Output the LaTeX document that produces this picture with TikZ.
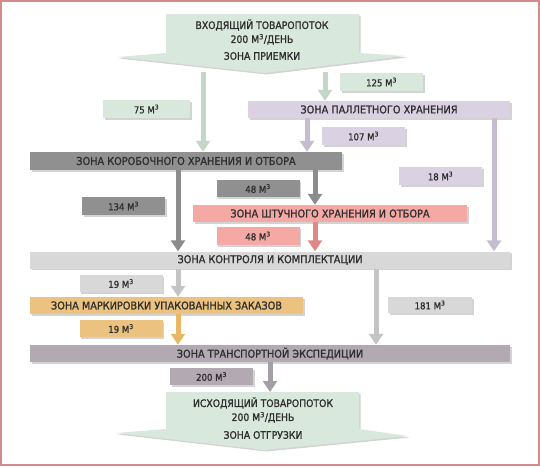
\documentclass[tikz,border=0pt]{standalone}
\usepackage{fontspec}
\setmainfont{DejaVu Sans Condensed}[FakeBold=1.2]
\usetikzlibrary{arrows.meta,shadows}
\definecolor{zone_text}{HTML}{2E2E2E}
\definecolor{frame_red}{HTML}{D38A8A}
\definecolor{recv_green}{HTML}{D9E8DC}
\definecolor{recv_arrow}{HTML}{C3D6C7}
\definecolor{pal_lilac}{HTML}{DAD2E2}
\definecolor{pal_arrow}{HTML}{C6BCD0}
\definecolor{box_gray}{HTML}{909090}
\definecolor{box_arrow}{HTML}{8C8C8C}
\definecolor{piece_pink}{HTML}{F5A9A5}
\definecolor{piece_arrow}{HTML}{E08886}
\definecolor{ctrl_gray}{HTML}{D8D8D8}
\definecolor{ctrl_arrow}{HTML}{C4C4C4}
\definecolor{mark_tan}{HTML}{EBC27F}
\definecolor{mark_arrow}{HTML}{EAB765}
\definecolor{ship_mauve}{HTML}{B3A9B3}
\definecolor{ship_arrow}{HTML}{A69EA6}
\newcommand{\mcube}{М\textsuperscript{3}}
\tikzset{shade_drop/.style={drop shadow={shadow xshift=1.5pt, shadow yshift=-1.5pt, opacity=0.35}}}
\tikzset{zone/.style={rectangle, minimum height=17pt, inner sep=0pt, text=zone_text, font=\fontsize{10.8}{12}\selectfont, shade_drop}}
\tikzset{vol/.style={zone, minimum width=83pt, font=\fontsize{9.5}{10}\selectfont}}
\tikzset{flow/.style={line width=5pt, -{Triangle[width=14pt,length=11pt]}}}
\tikzset{bantext/.style={text=zone_text, align=center, inner sep=1pt, font=\fontsize{10.3}{14}\selectfont}}

\begin{document}
\begin{tikzpicture}[x=1pt, y=-1pt]
  \useasboundingbox (0,0) rectangle (540,466);
  \draw[frame_red, line width=2pt] (1,1) rectangle (539,465);

  % incoming flow
  \fill[recv_green, shade_drop] (166,14) -- (359,14) -- (359,53) -- (406,56) -- (265,73) -- (117,57) -- (166,53) -- cycle;
  \node[bantext] (recv-flow) at (262,32) {ВХОДЯЩИЙ ТОВАРОПОТОК\\200 \mcube/ДЕНЬ};
  \node[bantext] (recv-zone) at (262,56) {ЗОНА ПРИЕМКИ};
  \coordinate (recv-tip) at (265,72);

  % outgoing flow
  \fill[recv_green, shade_drop] (166,392) -- (359,392) -- (359,429) -- (408,436) -- (265,450) -- (116,433) -- (166,429) -- cycle;
  \node[bantext] (send-flow) at (263,410) {ИСХОДЯЩИЙ ТОВАРОПОТОК\\200 \mcube/ДЕНЬ};
  \node[bantext] (send-zone) at (263,435) {ЗОНА ОТГРУЗКИ};
  \coordinate (send-top) at (265,392);

  % zones
  \node[zone, fill=pal_lilac, minimum width=262pt] (zone-pallet) at (379,109.5) {ЗОНА ПАЛЛЕТНОГО ХРАНЕНИЯ};
  \node[zone, fill=box_gray, minimum width=312pt, minimum height=18pt] (zone-box) at (186,161) {ЗОНА КОРОБОЧНОГО ХРАНЕНИЯ И ОТБОРА};
  \node[zone, fill=piece_pink, minimum width=274pt] (zone-piece) at (330,213.5) {ЗОНА ШТУЧНОГО ХРАНЕНИЯ И ОТБОРА};
  \node[zone, fill=ctrl_gray, minimum width=480pt] (zone-ctrl) at (270,260) {ЗОНА КОНТРОЛЯ И КОМПЛЕКТАЦИИ};
  \node[zone, fill=mark_tan, minimum width=273pt] (zone-mark) at (166.5,305.5) {ЗОНА МАРКИРОВКИ УПАКОВАННЫХ ЗАКАЗОВ};
  \node[zone, fill=ship_mauve, minimum width=480pt] (zone-ship) at (270,353.5) {ЗОНА ТРАНСПОРТНОЙ ЭКСПЕДИЦИИ};

  % volumes
  \node[vol, fill=recv_green, minimum width=87pt, minimum height=18pt] (vol-75) at (146.5,109) {75 \mcube};
  \node[vol, fill=recv_green, minimum height=18pt] (vol-125) at (381.5,82) {125 \mcube};
  \node[vol, fill=pal_lilac, minimum height=18pt] (vol-107) at (363.5,136) {107 \mcube};
  \node[vol, fill=box_gray] (vol-48-box) at (258,188.5) {48 \mcube};
  \node[vol, fill=box_gray, minimum height=18pt] (vol-134) at (123.5,206) {134 \mcube};
  \node[vol, fill=pal_lilac, minimum height=18pt] (vol-18) at (440.5,176) {18 \mcube};
  \node[vol, fill=piece_pink, minimum height=18pt] (vol-48-piece) at (258,236) {48 \mcube};
  \node[vol, fill=ctrl_gray] (vol-19-ctrl) at (121,283.5) {19 \mcube};
  \node[vol, fill=ctrl_gray, minimum width=84pt, minimum height=16pt] (vol-181) at (430,305) {181 \mcube};
  \node[vol, fill=mark_tan] (vol-19-mark) at (121,328.5) {19 \mcube};
  \node[vol, fill=ship_mauve] (vol-200) at (211.5,376.5) {200 \mcube};

  % arrow columns
  \coordinate (col-recv-box) at (203,0);
  \coordinate (col-recv-pal) at (325,0);
  \coordinate (col-pal-box) at (307,0);
  \coordinate (col-pal-ctrl) at (494,0);
  \coordinate (col-left) at (178,0);
  \coordinate (col-piece) at (315,0);
  \coordinate (col-ctrl-ship) at (376,0);
  \coordinate (col-out) at (270,0);

  \draw[flow, recv_arrow] (recv-tip -| col-recv-box) -- (zone-box.north -| col-recv-box);
  \draw[flow, recv_arrow] (recv-tip -| col-recv-pal) -- (zone-pallet.north -| col-recv-pal);

  \draw[flow, pal_arrow] (zone-pallet.south -| col-pal-box) -- (zone-box.north -| col-pal-box);
  \draw[flow, pal_arrow] (zone-pallet.south -| col-pal-ctrl) -- (zone-ctrl.north -| col-pal-ctrl);

  \draw[flow, box_arrow] (zone-box.south -| col-left) -- (zone-ctrl.north -| col-left);
  \draw[flow, box_arrow] (zone-box.south -| col-piece) -- (zone-piece.north -| col-piece);
  \draw[flow, piece_arrow] (zone-piece.south -| col-piece) -- (zone-ctrl.north -| col-piece);

  \draw[flow, ctrl_arrow] (zone-ctrl.south -| col-left) -- (zone-mark.north -| col-left);
  \draw[flow, ctrl_arrow] (zone-ctrl.south -| col-ctrl-ship) -- (zone-ship.north -| col-ctrl-ship);
  \draw[flow, mark_arrow] (zone-mark.south -| col-left) -- (zone-ship.north -| col-left);

  \draw[flow, ship_arrow] (zone-ship.south -| col-out) -- (send-top -| col-out);
\end{tikzpicture}
\end{document}
